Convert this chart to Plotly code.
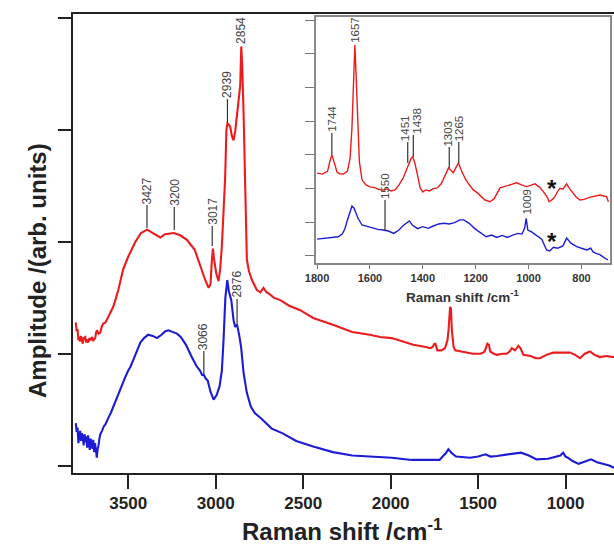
import plotly.graph_objects as go

# ---------------- data: main spectra (Raman shift /cm-1, amplitude a.u.) ----------------
red_x = [3800, 3795, 3790, 3785, 3780, 3775, 3770, 3765, 3760, 3755, 3746, 3740, 3735, 3729, 3722,
         3715, 3707, 3700, 3695, 3689, 3684, 3679, 3670, 3660, 3652, 3643, 3630, 3614, 3600, 3586,
         3570, 3557, 3530, 3500, 3460, 3427, 3393, 3370, 3340, 3317, 3290, 3241, 3203, 3165, 3120,
         3089, 3060, 3041, 3030, 3022, 3016, 3010, 2997, 2984, 2975, 2965, 2955, 2946, 2939, 2933,
         2925, 2917, 2908, 2898, 2888, 2879, 2870, 2860, 2854, 2848, 2840, 2831, 2822, 2810, 2793,
         2765, 2745, 2727, 2710, 2698, 2666, 2631, 2580, 2517, 2443, 2330, 2220, 2120, 2060, 1994,
         1930, 1870, 1800, 1774, 1760, 1750, 1744, 1733, 1710, 1689, 1675, 1669, 1660, 1655, 1650,
         1640, 1631, 1600, 1565, 1530, 1489, 1470, 1460, 1447, 1438, 1431, 1410, 1393, 1360, 1336,
         1320, 1307, 1289, 1269, 1258, 1241, 1200, 1170, 1146, 1110, 1070, 1020, 974, 945, 917,
         890, 860, 835, 803, 770, 740, 723]
red_y = [1.28, 1.20, 1.22, 1.12, 1.15, 1.11, 1.16, 1.12, 1.09, 1.14, 1.15, 1.10, 1.13, 1.10, 1.14,
         1.12, 1.15, 1.12, 1.13, 1.14, 1.19, 1.21, 1.18, 1.19, 1.24, 1.27, 1.28, 1.33, 1.38, 1.42,
         1.50, 1.57, 1.75, 1.87, 2.00, 2.08, 2.11, 2.09, 2.06, 2.04, 2.07, 2.08, 2.06, 2.02, 1.93,
         1.78, 1.66, 1.59, 1.62, 1.84, 1.94, 1.85, 1.72, 1.65, 1.75, 1.96, 2.30, 2.58, 3.00, 3.06,
         3.05, 3.03, 2.95, 2.91, 3.00, 3.12, 3.25, 3.40, 3.75, 3.55, 3.10, 2.44, 1.84, 1.74, 1.66,
         1.57, 1.55, 1.59, 1.55, 1.54, 1.50, 1.48, 1.43, 1.39, 1.32, 1.26, 1.195, 1.17, 1.15, 1.14,
         1.11, 1.08, 1.06, 1.05, 1.06, 1.09, 1.09, 1.03, 1.03, 1.05, 1.12, 1.21, 1.42, 1.40, 1.21,
         1.06, 1.03, 1.02, 1.01, 1.00, 1.00, 1.01, 1.03, 1.09, 1.08, 1.02, 1.00, 0.99, 1.00, 1.00,
         1.02, 1.05, 1.03, 1.07, 1.05, 0.99, 0.98, 0.96, 0.96, 0.99, 1.01, 1.01, 1.01, 0.99, 0.96,
         1.00, 1.02, 0.99, 0.97, 0.98, 0.97, 0.97]

blue_x = [3800, 3795, 3790, 3785, 3780, 3775, 3770, 3765, 3760, 3755, 3750, 3745, 3740, 3735, 3730,
          3725, 3720, 3715, 3710, 3705, 3700, 3695, 3690, 3685, 3680, 3675, 3670, 3665, 3660, 3650,
          3640, 3630, 3620, 3610, 3600, 3590, 3580, 3570, 3560, 3546, 3530, 3515, 3500, 3489, 3470,
          3450, 3431, 3410, 3386, 3360, 3336, 3310, 3290, 3271, 3250, 3222, 3200, 3170, 3140, 3110,
          3090, 3078, 3068, 3058, 3046, 3030, 3012, 2995, 2978, 2965, 2956, 2945, 2934, 2925, 2911,
          2898, 2889, 2878, 2865, 2855, 2840, 2822, 2800, 2777, 2740, 2711, 2680, 2620, 2540, 2443,
          2330, 2220, 2100, 1994, 1880, 1770, 1720, 1703, 1685, 1670, 1650, 1626, 1546, 1500, 1457,
          1430, 1391, 1330, 1255, 1210, 1166, 1100, 1054, 1030, 1014, 1000, 987, 960, 925, 900,
          854, 820, 786, 750, 723]
blue_y = [0.38, 0.30, 0.34, 0.20, 0.27, 0.31, 0.22, 0.29, 0.25, 0.18, 0.28, 0.21, 0.26, 0.16, 0.27,
          0.22, 0.14, 0.24, 0.19, 0.15, 0.23, 0.12, 0.20, 0.10, 0.07, 0.15, 0.18, 0.24, 0.28, 0.31,
          0.35, 0.37, 0.41, 0.44, 0.47, 0.51, 0.55, 0.58, 0.62, 0.68, 0.74, 0.80, 0.85, 0.88, 0.95,
          1.03, 1.10, 1.14, 1.17, 1.16, 1.14, 1.17, 1.20, 1.21, 1.20, 1.18, 1.15, 1.08, 0.98, 0.89,
          0.85, 0.81, 0.81, 0.78, 0.76, 0.66, 0.59, 0.63, 0.71, 0.85, 1.10, 1.50, 1.66, 1.56, 1.48,
          1.30, 1.24, 1.26, 1.16, 1.06, 0.82, 0.65, 0.53, 0.47, 0.42, 0.38, 0.33, 0.29, 0.22, 0.17,
          0.12, 0.09, 0.08, 0.07, 0.05, 0.05, 0.05, 0.08, 0.11, 0.145, 0.11, 0.08, 0.07, 0.08, 0.10,
          0.08, 0.085, 0.10, 0.115, 0.09, 0.055, 0.06, 0.08, 0.09, 0.115, 0.08, 0.07, 0.04, 0.015, 0.03,
          0.055, 0.03, 0.015, 0.0, -0.02]

# ---------------- data: inset (1800-700 cm-1) ----------------
inset_red_x = [1800, 1790, 1780, 1770, 1760, 1752, 1744, 1736, 1725, 1715, 1700, 1685, 1675, 1668,
               1662, 1657, 1652, 1646, 1640, 1630, 1615, 1600, 1580, 1565, 1550, 1535, 1520, 1505,
               1490, 1475, 1460, 1451, 1444, 1438, 1430, 1420, 1410, 1400, 1390, 1375, 1360, 1345,
               1330, 1315, 1303, 1295, 1285, 1275, 1265, 1255, 1240, 1225, 1209, 1190, 1165, 1146,
               1130, 1108, 1080, 1045, 1025, 1007, 990, 976, 960, 944, 930, 922, 910, 900, 890, 881,
               870, 862, 856, 845, 837, 820, 806, 790, 770, 755, 742, 730, 715, 705, 698]
inset_red_y = [2.46, 2.44, 2.43, 2.47, 2.52, 2.80, 3.00, 2.80, 2.50, 2.44, 2.43, 2.52, 2.90, 3.80,
               5.22, 6.26, 5.30, 3.80, 2.80, 2.26, 2.11, 2.05, 2.02, 1.97, 1.96, 1.99, 1.93, 1.96,
               2.11, 2.30, 2.62, 2.76, 2.90, 2.94, 2.75, 2.40, 2.02, 1.90, 1.96, 1.93, 2.00, 2.02,
               2.15, 2.40, 2.61, 2.55, 2.47, 2.62, 2.76, 2.55, 2.30, 2.12, 1.96, 1.85, 1.66, 1.61,
               1.70, 2.02, 2.08, 2.17, 2.10, 2.06, 2.10, 2.14, 2.05, 1.91, 1.75, 1.61, 1.68, 1.76, 1.92, 2.01,
               1.98, 2.06, 2.14, 2.00, 1.91, 1.75, 1.66, 1.68, 1.74, 1.76, 1.80, 1.81, 1.78, 1.76, 1.61]

inset_blue_x = [1800, 1780, 1760, 1740, 1720, 1705, 1695, 1685, 1675, 1668, 1660, 1652, 1645, 1630,
                1610, 1590, 1570, 1550, 1530, 1510, 1490, 1475, 1465, 1451, 1440, 1430, 1420, 1400,
                1380, 1360, 1340, 1320, 1300, 1280, 1260, 1245, 1225, 1200, 1180, 1160, 1140, 1120,
                1100, 1080, 1060, 1040, 1025, 1015, 1009, 1003, 990, 970, 950, 932, 920, 906, 890,
                870, 856, 840, 818, 800, 780, 765, 756, 745, 730, 720, 705, 700]
inset_blue_y = [0.50, 0.52, 0.53, 0.55, 0.57, 0.65, 0.80, 1.07, 1.35, 1.48, 1.42, 1.25, 1.12, 0.92,
                0.87, 0.82, 0.79, 0.77, 0.74, 0.67, 0.77, 0.90, 0.97, 1.04, 0.92, 0.87, 0.81, 0.87,
                0.82, 0.89, 0.95, 0.97, 0.95, 0.99, 1.07, 1.07, 0.97, 0.79, 0.67, 0.57, 0.62, 0.55,
                0.61, 0.55, 0.62, 0.67, 0.65, 0.82, 1.12, 0.77, 0.72, 0.62, 0.50, 0.18, 0.15, 0.26, 0.23,
                0.30, 0.53, 0.38, 0.28, 0.23, 0.18, 0.23, 0.12, 0.08, 0.04, -0.02, -0.08, -0.12]

# ---------------- peak labels ----------------
main_label_text = ["3427", "3200", "3017", "2939", "2854", "3066", "2876"]
main_label_x = [3393, 3237, 3020, 2933, 2853, 3068, 2878]
main_label_peak = [2.125, 2.107, 1.964, 3.065, 3.763, 0.81, 1.257]
main_label_top = [2.331, 2.313, 2.143, 3.28, 3.763, 1.025, 1.49]

inset_label_text = ["1744", "1657", "1550", "1451", "1438", "1303", "1265", "1009"]
inset_label_x = [1744, 1657, 1543, 1457, 1436, 1300, 1264, 1007]
inset_label_text_x = [1744, 1657, 1543, 1467, 1423, 1303, 1262, 1007]
inset_label_peak = [3.00, 6.29, 0.77, 2.76, 2.94, 2.61, 2.76, 1.19]
inset_label_top = [3.65, 6.29, 1.66, 3.38, 3.59, 3.23, 3.38, 1.19]

star_x = [913, 913]
star_y = [2.17, 0.62]

main_xticks = [3500, 3000, 2500, 2000, 1500, 1000]
main_yticks = [0, 1, 2, 3, 4]
inset_xticks = [1800, 1600, 1400, 1200, 1000, 800]
inset_yticks = [0, 1, 2, 3, 4, 5, 6, 7]

RED = "rgb(236,28,30)"
BLUE = "rgb(28,28,214)"
FONT = "Arial, 'Liberation Sans', sans-serif"

W, H = 614, 550
L, R, T, B = 73, 0, 14, 77
PW, PH = W - L - R, H - T - B


def px(xp):
    return (xp - L) / PW


def py(yp):
    return (H - B - yp) / PH


fig = go.Figure()
fig.add_trace(go.Scatter(x=red_x, y=red_y, mode="lines", line=dict(color=RED, width=2.1),
                         xaxis="x", yaxis="y", showlegend=False, hoverinfo="skip"))
fig.add_trace(go.Scatter(x=blue_x, y=blue_y, mode="lines", line=dict(color=BLUE, width=2.1),
                         xaxis="x", yaxis="y", showlegend=False, hoverinfo="skip"))
fig.add_trace(go.Scatter(x=inset_red_x, y=inset_red_y, mode="lines", line=dict(color=RED, width=1.4),
                         xaxis="x2", yaxis="y2", showlegend=False, hoverinfo="skip"))
fig.add_trace(go.Scatter(x=inset_blue_x, y=inset_blue_y, mode="lines", line=dict(color=BLUE, width=1.4),
                         xaxis="x2", yaxis="y2", showlegend=False, hoverinfo="skip"))

shapes = []
annotations = []
for t, x, p, top in zip(main_label_text, main_label_x, main_label_peak, main_label_top):
    if top > p:
        shapes.append(dict(type="line", xref="x", yref="y", x0=x, x1=x, y0=p, y1=top,
                           line=dict(color="#333", width=1.2)))
    annotations.append(dict(text=t, x=x, y=top, xref="x", yref="y", showarrow=False,
                            textangle=-90, xanchor="center", yanchor="bottom", borderpad=0,
                            font=dict(family=FONT, size=12, color="#444")))
for t, x, tx, p, top in zip(inset_label_text, inset_label_x, inset_label_text_x,
                            inset_label_peak, inset_label_top):
    if top > p:
        shapes.append(dict(type="line", xref="x2", yref="y2", x0=x, x1=x, y0=p, y1=top,
                           line=dict(color="#333", width=1.2)))
    annotations.append(dict(text=t, x=tx, y=top, xref="x2", yref="y2", showarrow=False,
                            textangle=-90, xanchor="center", yanchor="bottom", borderpad=0,
                            font=dict(family=FONT, size=11.5, color="#444")))
for sx, sy in zip(star_x, star_y):
    annotations.append(dict(text="<b>*</b>", x=sx, y=sy, xref="x2", yref="y2", showarrow=False,
                            xanchor="center", yanchor="middle", yshift=-6,
                            font=dict(family=FONT, size=24, color="#111")))

# axis titles
annotations.append(dict(text="<b>Raman shift /cm<sup>-1</sup></b>", x=px(342), y=py(530),
                        xref="paper", yref="paper", showarrow=False, xanchor="center",
                        yanchor="middle", font=dict(family=FONT, size=24, color="#222")))
annotations.append(dict(text="<b>Amplitude /(arb. units)</b>", x=px(37), y=py(271),
                        xref="paper", yref="paper", showarrow=False, xanchor="center",
                        yanchor="middle", textangle=-90,
                        font=dict(family=FONT, size=24, color="#222")))
annotations.append(dict(text="<b>Raman shift /cm<sup>-1</sup></b>", x=px(462), y=py(296),
                        xref="paper", yref="paper", showarrow=False, xanchor="center",
                        yanchor="middle", font=dict(family=FONT, size=13.5, color="#333")))

fig.update_layout(
    width=W, height=H,
    margin=dict(l=L, r=R, t=T, b=B, pad=0),
    paper_bgcolor="white", plot_bgcolor="white",
    font=dict(family=FONT),
    hovermode=False,
    xaxis=dict(range=[3816, 723], tickvals=main_xticks, ticks="outside", ticklen=14,
               tickwidth=2, tickcolor="#222", showline=True, linecolor="#222", linewidth=2,
               mirror=True, showgrid=False, zeroline=False,
               tickfont=dict(family=FONT, size=17, color="#222"),
               ticktext=["<b>%d</b>" % v for v in main_xticks]),
    yaxis=dict(range=[-0.067, 4.04], tickvals=main_yticks, ticks="outside", ticklen=13,
               tickwidth=2, tickcolor="#222", showline=True, linecolor="#222", linewidth=2,
               showticklabels=False, showgrid=False, zeroline=False),
    xaxis2=dict(domain=[px(316), px(610)], anchor="y2", range=[1804, 692],
                tickvals=inset_xticks, ticktext=["<b>%d</b>" % v for v in inset_xticks],
                ticks="outside", ticklen=4, tickwidth=1.2, tickcolor="#777",
                showline=True, linecolor="#888", linewidth=1.5, mirror=True,
                showgrid=False, zeroline=False,
                tickfont=dict(family=FONT, size=11, color="#333")),
    yaxis2=dict(domain=[py(263), py(17)], anchor="x2", range=[-0.208, 7.09],
                tickvals=inset_yticks, ticks="outside", ticklen=9, tickwidth=1.2,
                tickcolor="#777", showline=True, linecolor="#888", linewidth=1.5, mirror=True,
                showticklabels=False, showgrid=False, zeroline=False),
    shapes=shapes,
    annotations=annotations,
)

fig.write_html("out.html", config={"displayModeBar": False},
               post_script="document.body.style.margin='0';document.body.style.overflow='hidden';")
